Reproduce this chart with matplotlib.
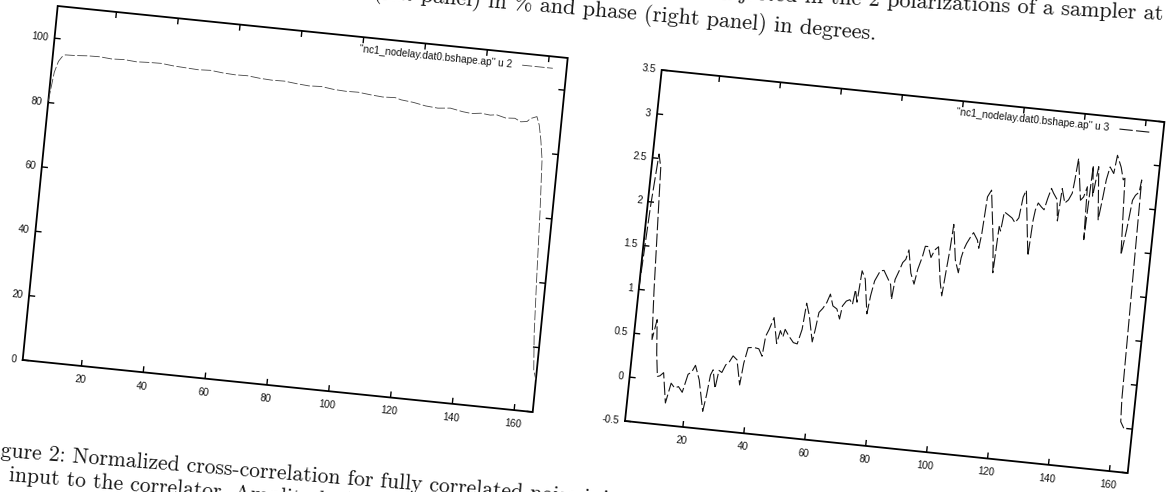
import numpy as np
import matplotlib
matplotlib.use("Agg")
import matplotlib.pyplot as plt
from matplotlib.collections import LineCollection
from matplotlib.transforms import Affine2D, Bbox, BboxTransformFrom

# left panel: normalised amplitude (%) per channel
amp_x = [1, 2, 3, 4, 5, 8, 12, 16, 20, 24, 28, 32, 36, 40, 44, 48, 52, 56, 60, 64,
         68, 72, 76, 80, 84, 88, 92, 96, 100, 104, 108, 112, 114, 118, 122, 126, 130, 134, 137, 140,
         143, 145, 148, 151, 153, 155, 156, 158, 159, 160, 161, 162, 163, 164, 165, 166]
amp_y = [80.5, 89.5, 93.0, 94.5, 95.2, 95.3, 95.6, 95.7, 95.4, 95.6, 95.3, 95.5, 95.6, 95.2, 95.0, 94.8, 95.0, 94.6, 94.4, 94.5,
         94.1, 93.9, 94.0, 93.6, 93.3, 93.5, 93.0, 92.8, 92.9, 92.5, 92.2, 92.4, 91.9, 91.5, 90.8, 90.5, 90.9, 90.2, 89.9, 90.3,
         90.0, 90.3, 89.6, 89.8, 88.9, 89.2, 90.2, 91.0, 88.5, 83.9, 77.9, 62.0, 42.0, 24.0, 13.0, 10.0]

# right panel: phase (degrees) per channel
ph_x = [1, 2, 3, 4, 5, 6, 7, 8, 9, 10,
        10.8, 11.9, 13.5, 14.7, 16, 17.2, 18.6, 19.9, 21, 22,
        23.7, 25.9, 26.6, 27.2, 27.9, 29.1, 29.8, 30.8, 31.8, 32.9,
        33.9, 35.3, 37, 37.6, 38.5, 40.3, 42, 43.3, 43.8, 44.7,
        45.9, 47.6, 48.4, 49.4, 49.9, 51.3, 53, 54.3, 55.4, 56,
        57.3, 59.1, 59.7, 60.3, 61.4, 62.5, 63.4, 64.6, 66, 67.2,
        67.7, 68.8, 69.9, 70.9, 71.4, 72.3, 72.9, 74.2, 75.9, 76.5,
        77.3, 78.8, 80, 81.4, 82.6, 83.4, 83.9, 84.9, 85.8, 86.7,
        87.4, 88.8, 90.2, 90.9, 92, 92.6, 93.6, 94.8, 95.8, 96.9,
        98.6, 99.6, 100.2, 100.7, 101.1, 102.8, 104.2, 104.6, 105.2, 105.9,
        107, 107.8, 109.3, 110, 110.5, 111.1, 112.2, 114.5, 115.4, 115.9,
        116.5, 117.1, 118.5, 119.8, 120.9, 122, 122.7, 123.5, 126.2, 126.7,
        127.1, 127.8, 128.9, 129.9, 130.7, 131.6, 132.4, 133.8, 134.6, 135.1,
        136.4, 137.5, 138.5, 138.9, 139.4, 141.4, 142.3, 143.2, 143.8, 144.4,
        145.2, 146.2, 147.8, 148.6, 149.1, 149.9, 151.3, 151.9, 153.5, 154.6,
        155.1, 156.4, 157.4, 158.3, 159.1, 160.2, 160.6, 161.6, 162.0, 163.2]
ph_y = [1.00, 1.95, 2.55, 2.40, 1.70, 1.00, 0.45, 0.68, 0.30, 0.04,
        0.05, 0.09, -0.25, -0.02, -0.07, -0.05, -0.11, 0.10, 0.13, 0.21,
        0.05, -0.30, -0.11, 0.12, 0.18, -0.03, 0.18, 0.16, 0.25, 0.29,
        0.36, 0.32, 0.04, 0.29, 0.47, 0.48, 0.47, 0.39, 0.62, 0.70,
        0.84, 0.55, 0.70, 0.63, 0.72, 0.65, 0.58, 0.57, 0.74, 1.04,
        0.90, 0.61, 0.76, 0.95, 1.00, 1.07, 1.17, 1.04, 1.01, 0.90,
        1.05, 1.11, 1.13, 1.08, 1.25, 1.11, 1.47, 1.38, 0.99, 1.20,
        1.37, 1.49, 1.50, 1.42, 1.35, 1.18, 1.41, 1.51, 1.61, 1.65,
        1.76, 1.50, 1.38, 1.55, 1.70, 1.82, 1.82, 1.70, 1.79, 1.83,
        1.44, 1.28, 1.58, 1.81, 2.10, 1.70, 1.56, 1.73, 1.83, 1.90,
        1.98, 2.03, 1.95, 1.86, 2.03, 2.45, 2.53, 1.94, 1.60, 2.13,
        2.08, 2.30, 2.27, 2.24, 2.19, 2.25, 2.49, 2.57, 1.83, 2.24,
        2.36, 2.44, 2.40, 2.37, 2.50, 2.62, 2.57, 2.50, 2.26, 2.63,
        2.47, 2.51, 2.59, 2.74, 2.99, 2.52, 2.56, 2.68, 2.08, 2.93,
        2.58, 2.92, 2.32, 2.59, 2.78, 2.93, 2.86, 3.07, 2.94, 2.80,
        2.82, 1.95, 2.24, 2.58, 2.64, 2.68, 2.82, 0.32, 0.07, 0.00]

x_ticks = [20, 40, 60, 80, 100, 120, 140, 160]
amp_ticks = [0, 20, 40, 60, 80, 100]
ph_ticks = [-0.5, 0, 0.5, 1, 1.5, 2, 2.5, 3, 3.5]
x_range = (1, 166)
amp_range = (0, 110)
ph_range = (-0.5, 3.5)

amp_key = '"nc1_nodelay.dat0.bshape.ap" u 2'
ph_key = '"nc1_nodelay.dat0.bshape.ap" u 3'

caption_1 = ("Figure 2: Normalized cross-correlation for fully correlated noise injected "
             "in the 2 polarizations of a sampler at")
caption_2 = "input to the correlator. Amplitude (left panel) in % and phase (right panel) in degrees."

W, H = 1167, 492
fig = plt.figure(figsize=(W / 100, H / 100), dpi=100)
page = fig.add_axes([0, 0, 1, 1])

tick_font = dict(family=["Liberation Sans", "DejaVu Sans"], size=7.3, color="#111111")
serif = ["cmr10", "DejaVu Serif"]


def tilted(bl, br, tl, xr, yr):
    # unit square -> page pixels, laid down as a slanted parallelogram
    m = np.array([[br[0] - bl[0], tl[0] - bl[0], bl[0]],
                  [br[1] - bl[1], tl[1] - bl[1], bl[1]],
                  [0.0, 0.0, 1.0]])
    unit = Affine2D(m) + page.transData
    data = BboxTransformFrom(Bbox.from_extents(xr[0], yr[0], xr[1], yr[1])) + unit
    angle = np.degrees(np.arctan2(-(br[1] - bl[1]), br[0] - bl[0]))
    return unit, data, angle


def draw_panel(bl, br, tl, yr, yticks, xs, ys, key, lw, color):
    xr = x_range
    unit, data, angle = tilted(bl, br, tl, xr, yr)
    page.plot([0, 1, 1, 0, 0], [0, 0, 1, 1, 0], transform=unit, color="k",
              lw=1.3, solid_joinstyle="miter")

    # gnuplot style inward ticks on all four sides
    dy = 0.017 * (yr[1] - yr[0])
    dx = 0.012 * (xr[1] - xr[0])
    segs = []
    for t in x_ticks:
        segs += [[(t, yr[0]), (t, yr[0] + dy)], [(t, yr[1]), (t, yr[1] - dy)]]
    for t in yticks:
        segs += [[(xr[0], t), (xr[0] + dx, t)], [(xr[1], t), (xr[1] - dx, t)]]
    page.add_collection(LineCollection(segs, colors="k", linewidths=1.0, transform=data),
                        autolim=False)

    for t in x_ticks:
        page.text(t, yr[0] - 0.025 * (yr[1] - yr[0]), f"{t:g}", transform=data,
                  rotation=angle, rotation_mode="anchor", ha="center", va="top", **tick_font)
    for t in yticks:
        page.text(xr[0] - 0.012 * (xr[1] - xr[0]), t, f"{t:g}", transform=data,
                  rotation=angle, rotation_mode="anchor", ha="right", va="center", **tick_font)

    page.plot(xs, ys, transform=data, color=color, lw=lw, linestyle=(0, (12, 3)))

    page.text(0.893, 0.967, key, transform=unit, rotation=angle, rotation_mode="anchor",
              ha="right", va="center", **tick_font)
    page.plot([0.913, 0.973], [0.967, 0.967], transform=unit, color=color, lw=lw,
              linestyle=(0, (12, 3)))


draw_panel((22.7, 360), (532.7, 412), (57.7, 6), amp_range, amp_ticks,
           amp_x, amp_y, amp_key, 0.6, "#444444")
draw_panel((625, 421), (1127.7, 473), (661.7, 70), ph_range, ph_ticks,
           ph_x, ph_y, ph_key, 0.8, "#151515")

# caption text running across the top and bottom of the page
page.text(1163, 20, caption_1, rotation=-2.8, rotation_mode="anchor", ha="right",
          va="baseline", family=serif, size=16, color="#151515")
page.text(876, 40, caption_2, rotation=-4.8, rotation_mode="anchor", ha="right",
          va="baseline", family=serif, size=16, color="#151515")
page.text(-20, 455, caption_1, rotation=-4.6, rotation_mode="anchor", ha="left",
          va="baseline", family=serif, size=15.5, color="#151515")
page.text(8, 481, caption_2, rotation=-4.6, rotation_mode="anchor", ha="left",
          va="baseline", family=serif, size=15.5, color="#151515")

page.set_xlim(0, W)
page.set_ylim(H, 0)
page.axis("off")

fig.savefig("out.png", dpi=100)
